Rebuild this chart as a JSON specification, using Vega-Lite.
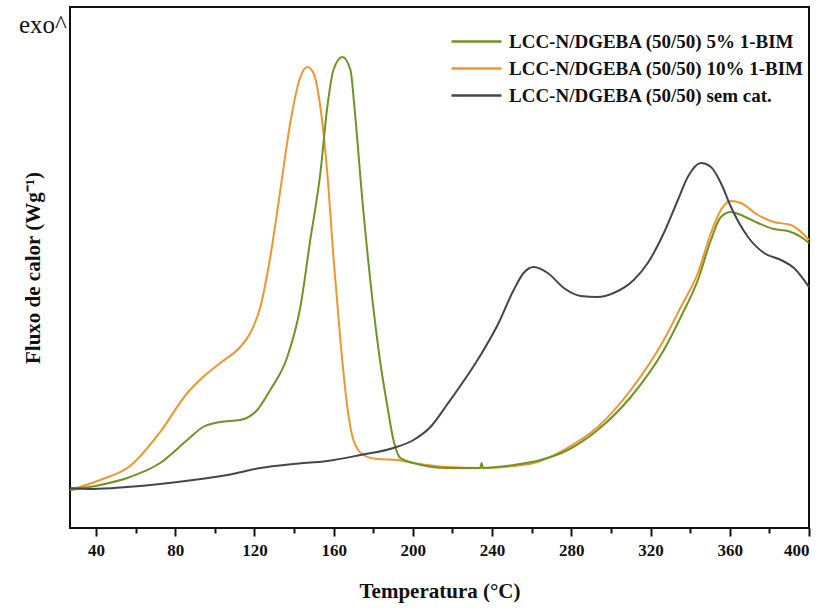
{
  "$schema": "https://vega.github.io/schema/vega-lite/v6.json",
  "width": 739,
  "height": 521,
  "autosize": {"type": "none"},
  "padding": {"left": 70, "top": 7, "right": 17, "bottom": 80},
  "background": "white",
  "config": {
    "view": {"stroke": "#111111", "strokeWidth": 2},
    "font": "Liberation Serif"
  },
  "title": {
    "text": "exo^",
    "orient": "top",
    "anchor": "start",
    "frame": "group",
    "font": "Liberation Serif",
    "fontSize": 25,
    "fontWeight": "normal",
    "color": "#111111",
    "baseline": "alphabetic",
    "align": "left",
    "dx": -51,
    "dy": 51,
    "offset": 0
  },
  "datasets": {
    "dsc": [
      {"s": "LCC-N/DGEBA (50/50) 10% 1-BIM", "T": 26.9, "v": 38},
      {"s": "LCC-N/DGEBA (50/50) 10% 1-BIM", "T": 42.1, "v": 48},
      {"s": "LCC-N/DGEBA (50/50) 10% 1-BIM", "T": 57.2, "v": 62},
      {"s": "LCC-N/DGEBA (50/50) 10% 1-BIM", "T": 72.4, "v": 96},
      {"s": "LCC-N/DGEBA (50/50) 10% 1-BIM", "T": 86.1, "v": 135},
      {"s": "LCC-N/DGEBA (50/50) 10% 1-BIM", "T": 94.1, "v": 151},
      {"s": "LCC-N/DGEBA (50/50) 10% 1-BIM", "T": 102.7, "v": 165},
      {"s": "LCC-N/DGEBA (50/50) 10% 1-BIM", "T": 112.8, "v": 181},
      {"s": "LCC-N/DGEBA (50/50) 10% 1-BIM", "T": 117.9, "v": 195},
      {"s": "LCC-N/DGEBA (50/50) 10% 1-BIM", "T": 123.0, "v": 221},
      {"s": "LCC-N/DGEBA (50/50) 10% 1-BIM", "T": 128.0, "v": 271},
      {"s": "LCC-N/DGEBA (50/50) 10% 1-BIM", "T": 133.1, "v": 338},
      {"s": "LCC-N/DGEBA (50/50) 10% 1-BIM", "T": 138.1, "v": 405},
      {"s": "LCC-N/DGEBA (50/50) 10% 1-BIM", "T": 143.2, "v": 451},
      {"s": "LCC-N/DGEBA (50/50) 10% 1-BIM", "T": 146.7, "v": 461},
      {"s": "LCC-N/DGEBA (50/50) 10% 1-BIM", "T": 149.8, "v": 455},
      {"s": "LCC-N/DGEBA (50/50) 10% 1-BIM", "T": 153.3, "v": 421},
      {"s": "LCC-N/DGEBA (50/50) 10% 1-BIM", "T": 156.8, "v": 355},
      {"s": "LCC-N/DGEBA (50/50) 10% 1-BIM", "T": 159.9, "v": 271},
      {"s": "LCC-N/DGEBA (50/50) 10% 1-BIM", "T": 163.4, "v": 188},
      {"s": "LCC-N/DGEBA (50/50) 10% 1-BIM", "T": 166.9, "v": 121},
      {"s": "LCC-N/DGEBA (50/50) 10% 1-BIM", "T": 170.0, "v": 88},
      {"s": "LCC-N/DGEBA (50/50) 10% 1-BIM", "T": 175.0, "v": 73},
      {"s": "LCC-N/DGEBA (50/50) 10% 1-BIM", "T": 182.1, "v": 69},
      {"s": "LCC-N/DGEBA (50/50) 10% 1-BIM", "T": 192.2, "v": 68},
      {"s": "LCC-N/DGEBA (50/50) 10% 1-BIM", "T": 200.3, "v": 65},
      {"s": "LCC-N/DGEBA (50/50) 10% 1-BIM", "T": 217.5, "v": 61},
      {"s": "LCC-N/DGEBA (50/50) 10% 1-BIM", "T": 234.2, "v": 60},
      {"s": "LCC-N/DGEBA (50/50) 10% 1-BIM", "T": 250.9, "v": 62},
      {"s": "LCC-N/DGEBA (50/50) 10% 1-BIM", "T": 263.0, "v": 66},
      {"s": "LCC-N/DGEBA (50/50) 10% 1-BIM", "T": 276.2, "v": 78},
      {"s": "LCC-N/DGEBA (50/50) 10% 1-BIM", "T": 293.3, "v": 101},
      {"s": "LCC-N/DGEBA (50/50) 10% 1-BIM", "T": 310.0, "v": 138},
      {"s": "LCC-N/DGEBA (50/50) 10% 1-BIM", "T": 326.7, "v": 188},
      {"s": "LCC-N/DGEBA (50/50) 10% 1-BIM", "T": 335.3, "v": 221},
      {"s": "LCC-N/DGEBA (50/50) 10% 1-BIM", "T": 343.9, "v": 255},
      {"s": "LCC-N/DGEBA (50/50) 10% 1-BIM", "T": 350.5, "v": 295},
      {"s": "LCC-N/DGEBA (50/50) 10% 1-BIM", "T": 355.5, "v": 318},
      {"s": "LCC-N/DGEBA (50/50) 10% 1-BIM", "T": 360.6, "v": 327},
      {"s": "LCC-N/DGEBA (50/50) 10% 1-BIM", "T": 365.6, "v": 325},
      {"s": "LCC-N/DGEBA (50/50) 10% 1-BIM", "T": 374.2, "v": 313},
      {"s": "LCC-N/DGEBA (50/50) 10% 1-BIM", "T": 382.3, "v": 306},
      {"s": "LCC-N/DGEBA (50/50) 10% 1-BIM", "T": 390.9, "v": 303},
      {"s": "LCC-N/DGEBA (50/50) 10% 1-BIM", "T": 396.0, "v": 296},
      {"s": "LCC-N/DGEBA (50/50) 10% 1-BIM", "T": 400.0, "v": 288},

      {"s": "LCC-N/DGEBA (50/50) 5% 1-BIM", "T": 26.9, "v": 38},
      {"s": "LCC-N/DGEBA (50/50) 5% 1-BIM", "T": 42.1, "v": 43},
      {"s": "LCC-N/DGEBA (50/50) 5% 1-BIM", "T": 57.2, "v": 51},
      {"s": "LCC-N/DGEBA (50/50) 5% 1-BIM", "T": 72.4, "v": 65},
      {"s": "LCC-N/DGEBA (50/50) 5% 1-BIM", "T": 86.1, "v": 88},
      {"s": "LCC-N/DGEBA (50/50) 5% 1-BIM", "T": 94.1, "v": 101},
      {"s": "LCC-N/DGEBA (50/50) 5% 1-BIM", "T": 102.7, "v": 106},
      {"s": "LCC-N/DGEBA (50/50) 5% 1-BIM", "T": 112.8, "v": 108},
      {"s": "LCC-N/DGEBA (50/50) 5% 1-BIM", "T": 121.4, "v": 118},
      {"s": "LCC-N/DGEBA (50/50) 5% 1-BIM", "T": 128.0, "v": 138},
      {"s": "LCC-N/DGEBA (50/50) 5% 1-BIM", "T": 136.6, "v": 171},
      {"s": "LCC-N/DGEBA (50/50) 5% 1-BIM", "T": 143.2, "v": 221},
      {"s": "LCC-N/DGEBA (50/50) 5% 1-BIM", "T": 148.2, "v": 288},
      {"s": "LCC-N/DGEBA (50/50) 5% 1-BIM", "T": 153.3, "v": 355},
      {"s": "LCC-N/DGEBA (50/50) 5% 1-BIM", "T": 156.8, "v": 421},
      {"s": "LCC-N/DGEBA (50/50) 5% 1-BIM", "T": 159.9, "v": 458},
      {"s": "LCC-N/DGEBA (50/50) 5% 1-BIM", "T": 164.4, "v": 471},
      {"s": "LCC-N/DGEBA (50/50) 5% 1-BIM", "T": 168.5, "v": 458},
      {"s": "LCC-N/DGEBA (50/50) 5% 1-BIM", "T": 170.5, "v": 421},
      {"s": "LCC-N/DGEBA (50/50) 5% 1-BIM", "T": 174.5, "v": 328},
      {"s": "LCC-N/DGEBA (50/50) 5% 1-BIM", "T": 179.6, "v": 228},
      {"s": "LCC-N/DGEBA (50/50) 5% 1-BIM", "T": 183.6, "v": 165},
      {"s": "LCC-N/DGEBA (50/50) 5% 1-BIM", "T": 187.2, "v": 121},
      {"s": "LCC-N/DGEBA (50/50) 5% 1-BIM", "T": 190.2, "v": 88},
      {"s": "LCC-N/DGEBA (50/50) 5% 1-BIM", "T": 193.7, "v": 70},
      {"s": "LCC-N/DGEBA (50/50) 5% 1-BIM", "T": 200.3, "v": 65},
      {"s": "LCC-N/DGEBA (50/50) 5% 1-BIM", "T": 217.5, "v": 60},
      {"s": "LCC-N/DGEBA (50/50) 5% 1-BIM", "T": 234.0, "v": 60},
      {"s": "LCC-N/DGEBA (50/50) 5% 1-BIM", "T": 234.7, "v": 65},
      {"s": "LCC-N/DGEBA (50/50) 5% 1-BIM", "T": 235.4, "v": 60},
      {"s": "LCC-N/DGEBA (50/50) 5% 1-BIM", "T": 250.9, "v": 63},
      {"s": "LCC-N/DGEBA (50/50) 5% 1-BIM", "T": 264.5, "v": 68},
      {"s": "LCC-N/DGEBA (50/50) 5% 1-BIM", "T": 278.2, "v": 78},
      {"s": "LCC-N/DGEBA (50/50) 5% 1-BIM", "T": 293.3, "v": 98},
      {"s": "LCC-N/DGEBA (50/50) 5% 1-BIM", "T": 310.0, "v": 131},
      {"s": "LCC-N/DGEBA (50/50) 5% 1-BIM", "T": 326.7, "v": 178},
      {"s": "LCC-N/DGEBA (50/50) 5% 1-BIM", "T": 335.3, "v": 211},
      {"s": "LCC-N/DGEBA (50/50) 5% 1-BIM", "T": 343.9, "v": 248},
      {"s": "LCC-N/DGEBA (50/50) 5% 1-BIM", "T": 350.5, "v": 288},
      {"s": "LCC-N/DGEBA (50/50) 5% 1-BIM", "T": 355.5, "v": 311},
      {"s": "LCC-N/DGEBA (50/50) 5% 1-BIM", "T": 360.6, "v": 316},
      {"s": "LCC-N/DGEBA (50/50) 5% 1-BIM", "T": 365.6, "v": 313},
      {"s": "LCC-N/DGEBA (50/50) 5% 1-BIM", "T": 374.2, "v": 305},
      {"s": "LCC-N/DGEBA (50/50) 5% 1-BIM", "T": 382.3, "v": 299},
      {"s": "LCC-N/DGEBA (50/50) 5% 1-BIM", "T": 389.4, "v": 297},
      {"s": "LCC-N/DGEBA (50/50) 5% 1-BIM", "T": 396.0, "v": 291},
      {"s": "LCC-N/DGEBA (50/50) 5% 1-BIM", "T": 400.0, "v": 285},

      {"s": "LCC-N/DGEBA (50/50) sem cat.", "T": 26.9, "v": 40},
      {"s": "LCC-N/DGEBA (50/50) sem cat.", "T": 38.5, "v": 39},
      {"s": "LCC-N/DGEBA (50/50) sem cat.", "T": 55.7, "v": 41},
      {"s": "LCC-N/DGEBA (50/50) sem cat.", "T": 72.4, "v": 44},
      {"s": "LCC-N/DGEBA (50/50) sem cat.", "T": 89.1, "v": 48},
      {"s": "LCC-N/DGEBA (50/50) sem cat.", "T": 106.3, "v": 53},
      {"s": "LCC-N/DGEBA (50/50) sem cat.", "T": 123.0, "v": 60},
      {"s": "LCC-N/DGEBA (50/50) sem cat.", "T": 139.6, "v": 64},
      {"s": "LCC-N/DGEBA (50/50) sem cat.", "T": 156.8, "v": 67},
      {"s": "LCC-N/DGEBA (50/50) sem cat.", "T": 173.5, "v": 73},
      {"s": "LCC-N/DGEBA (50/50) sem cat.", "T": 190.2, "v": 80},
      {"s": "LCC-N/DGEBA (50/50) sem cat.", "T": 200.3, "v": 88},
      {"s": "LCC-N/DGEBA (50/50) sem cat.", "T": 208.9, "v": 101},
      {"s": "LCC-N/DGEBA (50/50) sem cat.", "T": 217.5, "v": 124},
      {"s": "LCC-N/DGEBA (50/50) sem cat.", "T": 234.2, "v": 173},
      {"s": "LCC-N/DGEBA (50/50) sem cat.", "T": 242.8, "v": 203},
      {"s": "LCC-N/DGEBA (50/50) sem cat.", "T": 250.9, "v": 238},
      {"s": "LCC-N/DGEBA (50/50) sem cat.", "T": 255.9, "v": 255},
      {"s": "LCC-N/DGEBA (50/50) sem cat.", "T": 261.0, "v": 261},
      {"s": "LCC-N/DGEBA (50/50) sem cat.", "T": 268.1, "v": 255},
      {"s": "LCC-N/DGEBA (50/50) sem cat.", "T": 276.2, "v": 240},
      {"s": "LCC-N/DGEBA (50/50) sem cat.", "T": 284.7, "v": 232},
      {"s": "LCC-N/DGEBA (50/50) sem cat.", "T": 293.3, "v": 231},
      {"s": "LCC-N/DGEBA (50/50) sem cat.", "T": 301.4, "v": 235},
      {"s": "LCC-N/DGEBA (50/50) sem cat.", "T": 311.5, "v": 248},
      {"s": "LCC-N/DGEBA (50/50) sem cat.", "T": 318.6, "v": 265},
      {"s": "LCC-N/DGEBA (50/50) sem cat.", "T": 326.7, "v": 295},
      {"s": "LCC-N/DGEBA (50/50) sem cat.", "T": 333.8, "v": 328},
      {"s": "LCC-N/DGEBA (50/50) sem cat.", "T": 338.8, "v": 351},
      {"s": "LCC-N/DGEBA (50/50) sem cat.", "T": 345.4, "v": 365},
      {"s": "LCC-N/DGEBA (50/50) sem cat.", "T": 350.5, "v": 361},
      {"s": "LCC-N/DGEBA (50/50) sem cat.", "T": 355.5, "v": 345},
      {"s": "LCC-N/DGEBA (50/50) sem cat.", "T": 360.6, "v": 321},
      {"s": "LCC-N/DGEBA (50/50) sem cat.", "T": 369.2, "v": 291},
      {"s": "LCC-N/DGEBA (50/50) sem cat.", "T": 377.3, "v": 275},
      {"s": "LCC-N/DGEBA (50/50) sem cat.", "T": 385.9, "v": 268},
      {"s": "LCC-N/DGEBA (50/50) sem cat.", "T": 392.4, "v": 260},
      {"s": "LCC-N/DGEBA (50/50) sem cat.", "T": 400.0, "v": 241}
    ]
  },
  "data": {"name": "dsc"},
  "resolve": {"axis": {"x": "independent"}},
  "layer": [
    {
      "mark": {"type": "line", "strokeWidth": 2, "interpolate": "monotone", "opacity": 0},
      "encoding": {
        "x": {
          "field": "T", "type": "quantitative",
          "scale": {"domain": [26.9, 400], "nice": false, "zero": false},
          "axis": {
            "orient": "bottom",
            "values": [60, 100, 140, 180, 220, 260, 300, 340, 380],
            "labels": false, "domain": false, "grid": false,
            "tickSize": 5, "tickWidth": 2, "tickColor": "#111111",
            "title": null
          }
        },
        "y": {
          "field": "v", "type": "quantitative",
          "scale": {"domain": [0, 521], "nice": false},
          "axis": {
            "ticks": false, "labels": false, "domain": false, "grid": false,
            "title": "Fluxo de calor (Wg⁻¹)",
            "titleFont": "Liberation Serif", "titleFontSize": 21, "titleFontWeight": "bold",
            "titleColor": "#111111", "titlePadding": 27
          }
        },
        "detail": {"field": "s"}
      }
    },
    {
      "mark": {"type": "line", "strokeWidth": 2, "interpolate": "monotone"},
      "encoding": {
        "x": {
          "field": "T", "type": "quantitative",
          "scale": {"domain": [26.9, 400], "nice": false, "zero": false},
          "axis": {
            "orient": "bottom",
            "values": [40, 80, 120, 160, 200, 240, 280, 320, 360, 400],
            "domain": false, "grid": false,
            "tickSize": 8, "tickWidth": 2, "tickColor": "#111111",
            "labelFont": "Liberation Serif", "labelFontSize": 17, "labelFontWeight": "bold",
            "labelColor": "#111111", "labelPadding": 6,
            "title": "Temperatura (°C)",
            "titleFont": "Liberation Serif", "titleFontSize": 21, "titleFontWeight": "bold",
            "titleColor": "#111111", "titlePadding": 22
          }
        },
        "y": {
          "field": "v", "type": "quantitative",
          "scale": {"domain": [0, 521], "nice": false},
          "axis": {
            "ticks": false, "labels": false, "domain": false, "grid": false,
            "title": "Fluxo de calor (Wg⁻¹)",
            "titleFont": "Liberation Serif", "titleFontSize": 21, "titleFontWeight": "bold",
            "titleColor": "#111111", "titlePadding": 27
          }
        },
        "color": {
          "field": "s", "type": "nominal",
          "scale": {
            "domain": ["LCC-N/DGEBA (50/50) 5% 1-BIM", "LCC-N/DGEBA (50/50) 10% 1-BIM", "LCC-N/DGEBA (50/50) sem cat."],
            "range": ["#6e9422", "#f2952c", "#45454d"]
          },
          "legend": {
            "orient": "none",
            "legendX": 380,
            "legendY": 21,
            "padding": 0,
            "title": null,
            "symbolType": "stroke",
            "symbolSize": 2500,
            "symbolStrokeWidth": 2.5,
            "clipHeight": 27,
            "labelFont": "Liberation Serif",
            "labelFontSize": 19,
            "labelFontWeight": "bold",
            "labelColor": "#111111",
            "labelLimit": 400,
            "labelOffset": 6,
            "rowPadding": 0
          }
        }
      }
    }
  ]
}
